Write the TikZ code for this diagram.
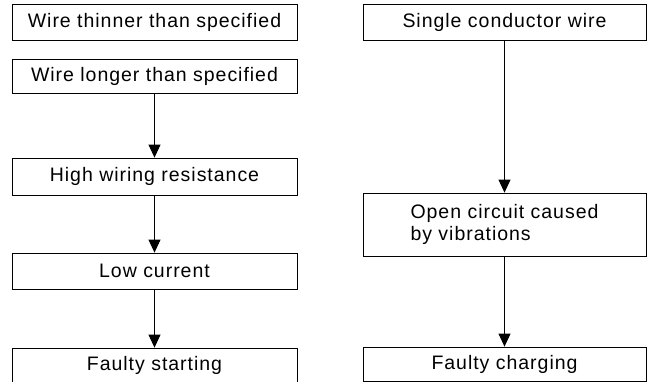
\documentclass[tikz,border=0pt]{standalone}
\usepackage{fontspec}
\setmainfont{Liberation Sans}[LetterSpace=5]
\usetikzlibrary{arrows.meta}

\begin{document}
\begin{tikzpicture}[x=1pt,y=-1pt,
    box/.style={draw, line width=0.8pt, inner sep=0pt, font=\fontsize{19.5}{22}\selectfont},
    flow/.style={line width=0.8pt, -{Triangle[length=13pt,width=12pt]}}]
    \clip (0,0) rectangle (647,381);

    \node[box, minimum width=285pt, minimum height=36pt] (thin) at (154.5,22) {Wire thinner than specified};
    \node[box, minimum width=285pt, minimum height=34pt] (long) at (154.5,76) {Wire longer than specified};
    \node[box, minimum width=285pt, minimum height=37pt] (resist) at (154.5,176.5) {High wiring resistance};
    \node[box, minimum width=285pt, minimum height=36pt] (low) at (154.5,271) {Low current};
    \node[box, minimum width=285pt, minimum height=34pt] (start) at (154.5,365) {Faulty starting};

    \node[box, minimum width=283pt, minimum height=36pt] (single) at (504.5,22) {Single conductor wire};
    \node[box, minimum width=283pt, minimum height=63pt, align=left] (open) at (504.5,224.5) {Open circuit caused\\by vibrations};
    \node[box, minimum width=283pt, minimum height=34pt] (charge) at (504.5,364) {Faulty charging};

    \draw[flow] (long) -- (resist);
    \draw[flow] (resist) -- (low);
    \draw[flow] (low) -- (start);
    \draw[flow] (single) -- (open);
    \draw[flow] (open) -- (charge);
\end{tikzpicture}
\end{document}
